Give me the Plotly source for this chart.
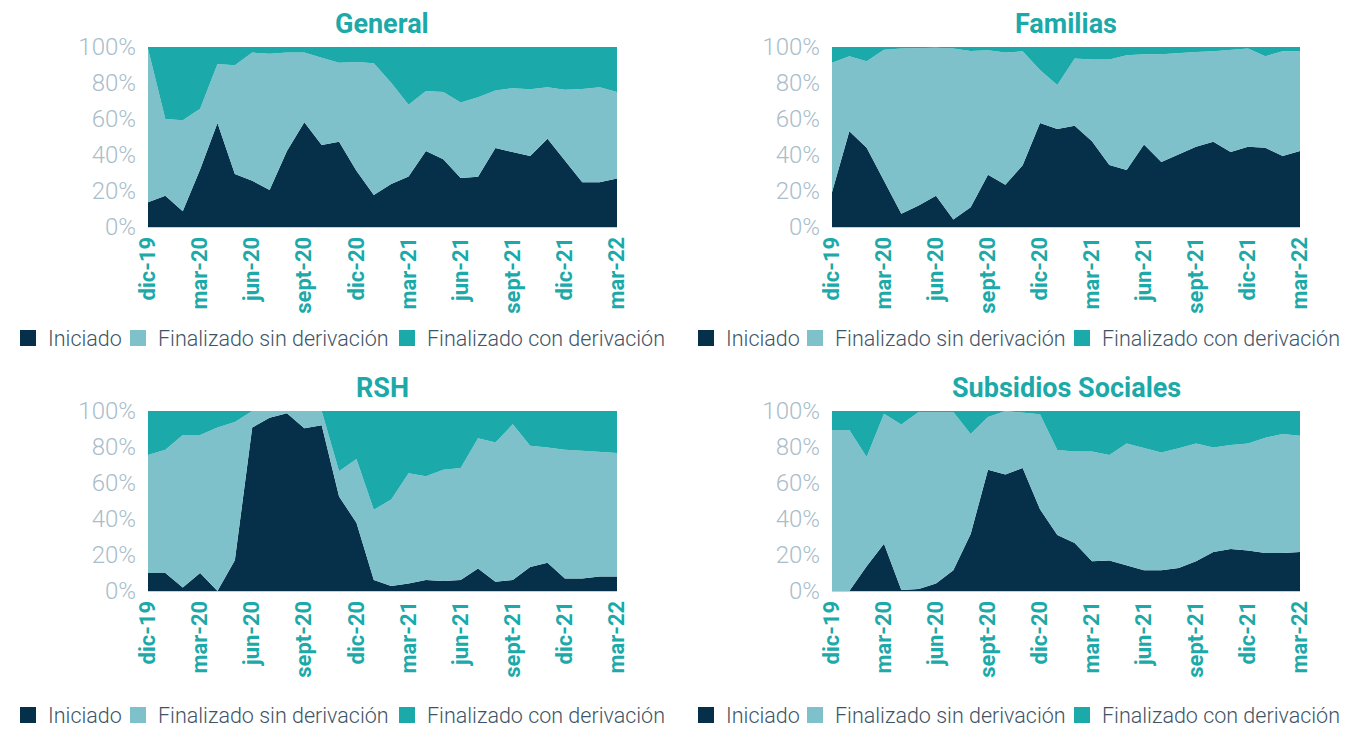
import plotly.graph_objects as go

months = ["dic-19","ene-20","feb-20","mar-20","abr-20","may-20","jun-20","jul-20","ago-20","sept-20","oct-20","nov-20",
          "dic-20","ene-21","feb-21","mar-21","abr-21","may-21","jun-21","jul-21","ago-21","sept-21","oct-21","nov-21",
          "dic-21","ene-22","feb-22","mar-22"]
tick_labels = ["dic-19","mar-20","jun-20","sept-20","dic-20","mar-21","jun-21","sept-21","dic-21","mar-22"]
y_ticks = [0, 20, 40, 60, 80, 100]
y_tick_labels = ["0%", "20%", "40%", "60%", "80%", "100%"]

# Percent values per series (Iniciado, Finalizado sin derivación, Finalizado con derivación)
general_ini = [13.8,17.4,8.8,32.0,57.8,29.4,25.7,20.6,42.2,58.2,45.5,47.3,31.2,17.8,23.9,28.1,42.2,37.6,27.2,27.9,43.9,41.8,39.4,49.0,36.7,24.8,24.8,27.0]
general_sin = [85.2,42.6,50.5,33.7,32.7,60.5,71.2,75.7,54.7,38.7,48.5,43.9,60.5,73.2,56.3,39.8,33.4,37.4,42.0,44.2,31.9,35.3,37.1,28.6,39.6,51.9,52.8,48.0]
general_con = [1.0,40.0,40.7,34.3,9.5,10.1,3.1,3.7,3.1,3.1,6.0,8.8,8.3,9.0,19.8,32.1,24.4,25.0,30.8,27.9,24.2,22.9,23.5,22.4,23.7,23.3,22.4,25.0]

familias_ini = [19.3,53.2,44.0,25.7,7.3,11.9,17.4,4.2,11.0,29.0,23.5,34.3,57.8,54.5,56.3,47.7,34.5,31.6,45.9,36.1,40.4,44.6,47.3,41.7,44.6,44.0,39.4,42.2]
familias_sin = [71.9,41.7,48.1,72.8,91.8,87.5,82.2,94.9,86.8,69.2,73.4,63.3,29.4,24.4,37.3,45.3,58.5,63.8,50.1,59.9,56.3,52.6,50.3,56.8,54.5,50.9,58.2,55.4]
familias_con = [8.8,5.1,7.9,1.5,0.9,0.6,0.4,0.9,2.2,1.8,3.1,2.4,12.8,21.1,6.4,7.0,7.0,4.6,4.0,4.0,3.3,2.8,2.4,1.5,0.9,5.1,2.4,2.4]

rsh_ini = [10.0,10.0,2.0,10.0,0.0,17.1,90.8,96.3,98.7,90.4,92.1,52.5,37.9,6.1,2.8,4.2,6.1,5.5,6.1,12.5,5.2,6.1,13.4,15.7,7.0,7.0,8.1,8.1]
rsh_sin = [65.5,68.5,84.6,76.6,90.8,76.8,9.2,3.7,1.3,9.6,7.9,14.0,35.4,39.0,48.0,61.2,57.6,61.9,62.2,72.4,77.3,86.5,67.3,64.0,71.5,70.9,69.2,68.5]
rsh_con = [24.5,21.5,13.4,13.4,9.2,6.1,0.0,0.0,0.0,0.0,0.0,33.5,26.7,54.9,49.2,34.6,36.3,32.6,31.7,15.1,17.5,7.4,19.3,20.3,21.5,22.1,22.7,23.4]

subsidios_ini = [0.0,0.0,13.7,26.2,0.5,1.1,4.2,11.5,31.7,67.4,64.7,68.3,45.4,31.1,26.7,16.5,17.0,14.3,11.5,11.5,12.8,16.5,21.6,23.4,22.5,21.1,21.1,21.6]
subsidios_sin = [89.4,89.4,60.7,72.3,92.0,98.4,95.3,88.0,55.5,29.3,35.3,30.6,52.8,47.3,50.8,61.0,58.6,67.7,67.8,65.4,66.5,65.5,58.1,57.7,59.5,64.1,66.1,64.7]
subsidios_con = [10.6,10.6,25.6,1.5,7.5,0.5,0.5,0.5,12.8,3.3,0.0,1.1,1.8,21.6,22.5,22.5,24.4,18.0,20.7,23.1,20.7,18.0,20.3,18.9,18.0,14.8,12.8,13.7]

series_names = ["Iniciado", "Finalizado sin derivación", "Finalizado con derivación"]
colors = ["#06304A", "#7FC1CB", "#1BA9A9"]
legend_widths_left = [65, 224, None]
legend_widths_right = [64, 222, None]

panels = [
    ("General", [general_ini, general_sin, general_con]),
    ("Familias", [familias_ini, familias_sin, familias_con]),
    ("RSH", [rsh_ini, rsh_sin, rsh_con]),
    ("Subsidios Sociales", [subsidios_ini, subsidios_sin, subsidios_con]),
]

W, H = 1349, 729
OFF = 8  # page body margin
def px(x): return (x - OFF) / W
def py(y): return 1 - (y - OFF) / H

x_domains = [(px(148), px(617)), (px(832), px(1300)), (px(148), px(617)), (px(832), px(1300))]
y_domains = [(py(227), py(47)), (py(227), py(47)), (py(591), py(411)), (py(591), py(411))]
title_pos = [(382, 24), (1066, 24), (382, 388), (1066, 388)]
legend_pos = [(8, 338), (686, 338), (8, 715), (686, 715)]

xs = list(range(len(months)))
tickvals = [months.index(t) for t in tick_labels]

fig = go.Figure()
layout = dict(template="none", width=W, height=H, autosize=False,
              margin=dict(l=0, r=0, t=0, b=0, pad=0, autoexpand=False),
              paper_bgcolor="white", plot_bgcolor="white", annotations=[])

for k, (title, data) in enumerate(panels):
    sfx = "" if k == 0 else str(k + 1)
    xa, ya = "x" + sfx, "y" + sfx
    lg = "legend" + sfx
    lws = legend_widths_left if k % 2 == 0 else legend_widths_right
    for name, vals, col in zip(series_names, data, colors):
        fig.add_trace(go.Scatter(x=xs, y=vals, name=name, mode="lines", stackgroup="s" + str(k),
                                 line=dict(width=0, color=col), fillcolor=col, xaxis=xa, yaxis=ya,
                                 showlegend=False, hoverinfo="x+y+name"))
    for name, col, lw in zip(series_names, colors, lws):
        extra = {} if lw is None else {"legendwidth": lw}
        fig.add_trace(go.Scatter(x=[None], y=[None], name=name, mode="markers",
                                 marker=dict(symbol="square", size=17, color=col, line=dict(width=0)),
                                 xaxis=xa, yaxis=ya, legend=lg, showlegend=True, **extra))
    layout["xaxis" + sfx] = dict(domain=x_domains[k], anchor=ya, range=[0, 27], tickmode="array",
                                 tickvals=tickvals, ticktext=tick_labels, tickangle=-90,
                                 tickfont=dict(family="Roboto", size=22, color="#1BA9A9", weight="bold"),
                                 showgrid=False, zeroline=False, showline=True, linecolor="#BFD3DC",
                                 linewidth=1, ticks="", automargin=False, fixedrange=True)
    layout["yaxis" + sfx] = dict(domain=y_domains[k], anchor=xa, range=[0, 100], tickmode="array",
                                 tickvals=y_ticks, ticktext=y_tick_labels,
                                 tickfont=dict(family="Roboto", size=24, color="#A9BDCA", weight=300),
                                 showgrid=False, zeroline=False, showline=False, ticks="", ticklabelstandoff=11,
                                 automargin=False, fixedrange=True)
    lx, ly = legend_pos[k]
    layout[lg] = dict(orientation="h", x=max(px(lx), 0), y=py(ly), xanchor="left", yanchor="middle",
                      font=dict(family="Roboto", size=21.5, color="#3D5466", weight=300),
                      bgcolor="rgba(0,0,0,0)", itemwidth=30, tracegroupgap=0, traceorder="normal")
    tx, ty = title_pos[k]
    layout["annotations"].append(dict(text="<b>" + title + "</b>", x=px(tx), y=py(ty), xref="paper", yref="paper",
                                      xanchor="center", yanchor="middle", showarrow=False,
                                      font=dict(family="Roboto", size=27, color="#1BA9A9")))

fig.update_layout(**layout)
fig.write_html("out.html")
